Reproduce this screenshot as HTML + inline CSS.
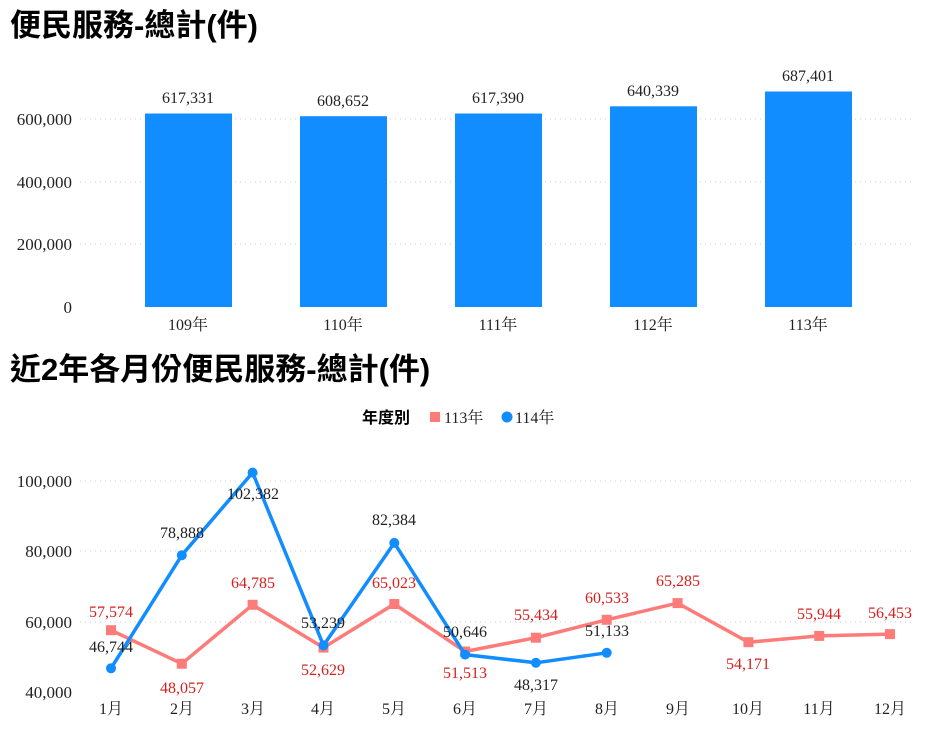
<!DOCTYPE html>
<html><head><meta charset="utf-8"><style>
body{margin:0;background:#fff;width:925px;height:726px;overflow:hidden}
svg text{font-family:"Liberation Serif","Noto Serif CJK SC",serif}
</style></head><body>
<svg width="925" height="726" viewBox="0 0 925 726">
<text x="10" y="36" font-size="31" style="font-family:'Liberation Sans','Noto Sans CJK TC',sans-serif;font-weight:bold">便民服務-總計(件)</text>
<g stroke="#ccc" stroke-dasharray="1,4" stroke-width="1">
<line x1="80" x2="915" y1="119" y2="119"/><line x1="80" x2="915" y1="182" y2="182"/><line x1="80" x2="915" y1="244" y2="244"/>
</g>
<g font-size="17" text-anchor="end" fill="#222">
<text x="72" y="125">600,000</text><text x="72" y="188">400,000</text><text x="72" y="250">200,000</text><text x="72" y="313">0</text>
</g>
<g fill="#118DFF">
<rect x="145" y="113.5" width="87" height="193.5"/>
<rect x="300" y="116.2" width="87" height="190.8"/>
<rect x="455" y="113.5" width="87" height="193.5"/>
<rect x="610" y="106.3" width="87" height="200.7"/>
<rect x="765" y="91.5" width="87" height="215.5"/>
</g>
<g font-size="16" text-anchor="middle" fill="#222">
<text x="188" y="103">617,331</text><text x="343" y="106">608,652</text><text x="498" y="103">617,390</text><text x="653" y="96">640,339</text><text x="808" y="81">687,401</text>
<text x="188" y="330">109年</text><text x="343" y="330">110年</text><text x="498" y="330">111年</text><text x="653" y="330">112年</text><text x="808" y="330">113年</text>
</g>
<text x="10" y="380" font-size="31" style="font-family:'Liberation Sans','Noto Sans CJK TC',sans-serif;font-weight:bold">近2年各月份便民服務-總計(件)</text>
<text x="362" y="423" font-size="16" style="font-family:'Liberation Sans','Noto Sans CJK TC',sans-serif;font-weight:bold">年度別</text>
<rect x="430" y="412" width="10" height="10" fill="#FD7B78"/>
<text x="444" y="423" font-size="16" fill="#222">113年</text>
<circle cx="507" cy="417" r="5.5" fill="#118DFF"/>
<text x="515" y="423" font-size="16" fill="#222">114年</text>
<g stroke="#ccc" stroke-dasharray="1,4" stroke-width="1">
<line x1="80" x2="915" y1="481" y2="481"/><line x1="80" x2="915" y1="551" y2="551"/><line x1="80" x2="915" y1="622" y2="622"/>
</g>
<g font-size="17" text-anchor="end" fill="#222">
<text x="72" y="487">100,000</text><text x="72" y="557">80,000</text><text x="72" y="628">60,000</text><text x="72" y="698">40,000</text>
</g>
<g font-size="16" text-anchor="middle" fill="#222">
<text x="111" y="714">1月</text><text x="182" y="714">2月</text><text x="253" y="714">3月</text><text x="323" y="714">4月</text><text x="394" y="714">5月</text><text x="465" y="714">6月</text><text x="536" y="714">7月</text><text x="607" y="714">8月</text><text x="678" y="714">9月</text><text x="748" y="714">10月</text><text x="819" y="714">11月</text><text x="890" y="714">12月</text>
</g>
<polyline fill="none" stroke="#FD7B78" stroke-width="3.5" stroke-linejoin="round" points="111,630.2 181.8,663.7 252.6,604.8 323.5,647.6 394.3,604 465.1,651.5 535.9,637.7 606.7,619.8 677.6,603.1 748.4,642.2 819.2,635.9 890,634.1"/>
<g fill="#FD7B78">
<rect x="106" y="625.2" width="10" height="10"/><rect x="176.8" y="658.7" width="10" height="10"/><rect x="247.6" y="599.8" width="10" height="10"/><rect x="318.5" y="642.6" width="10" height="10"/><rect x="389.3" y="599" width="10" height="10"/><rect x="460.1" y="646.5" width="10" height="10"/><rect x="530.9" y="632.7" width="10" height="10"/><rect x="601.7" y="614.8" width="10" height="10"/><rect x="672.6" y="598.1" width="10" height="10"/><rect x="743.4" y="637.2" width="10" height="10"/><rect x="814.2" y="630.9" width="10" height="10"/><rect x="885" y="629.1" width="10" height="10"/>
</g>
<polyline fill="none" stroke="#118DFF" stroke-width="3.5" stroke-linejoin="round" points="111,668.3 181.8,555.2 252.6,472.6 323.5,645.4 394.3,542.9 465.1,654.6 535.9,662.8 606.7,652.8"/>
<g fill="#118DFF">
<circle cx="111" cy="668.3" r="5"/><circle cx="181.8" cy="555.2" r="5"/><circle cx="252.6" cy="472.6" r="5"/><circle cx="323.5" cy="645.4" r="5"/><circle cx="394.3" cy="542.9" r="5"/><circle cx="465.1" cy="654.6" r="5"/><circle cx="535.9" cy="662.8" r="5"/><circle cx="606.7" cy="652.8" r="5"/>
</g>
<g font-size="16" text-anchor="middle" fill="#D91E1E">
<text x="111" y="617">57,574</text><text x="182" y="693">48,057</text><text x="253" y="588">64,785</text><text x="323" y="675">52,629</text><text x="394" y="588">65,023</text><text x="465" y="678">51,513</text><text x="536" y="620">55,434</text><text x="607" y="603">60,533</text><text x="678" y="586">65,285</text><text x="748" y="669">54,171</text><text x="819" y="619">55,944</text><text x="890" y="618">56,453</text>
</g>
<g font-size="16" text-anchor="middle" fill="#222">
<text x="111" y="652">46,744</text><text x="182" y="538">78,888</text><text x="253" y="499">102,382</text><text x="323" y="628">53,239</text><text x="394" y="525">82,384</text><text x="465" y="637">50,646</text><text x="536" y="690">48,317</text><text x="607" y="636">51,133</text>
</g>
</svg>
</body></html>
